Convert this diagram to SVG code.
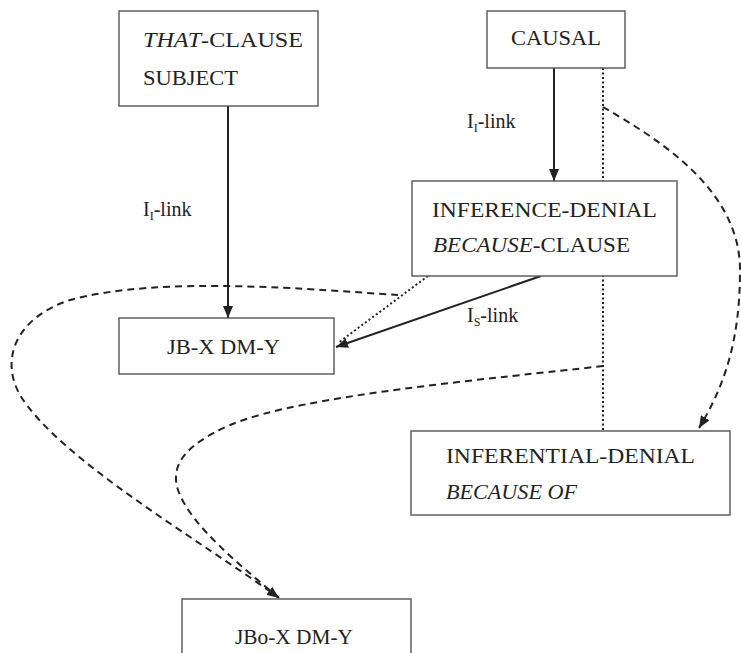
<svg xmlns="http://www.w3.org/2000/svg" width="741" height="653" viewBox="0 0 741 653">
  <style>
    .box { fill: #ffffff; stroke: #555555; stroke-width: 1.4; }
    .lbl { font-family: "Liberation Serif", "Times New Roman", serif; font-size: 21px; fill: #222222; }
    .edge { font-family: "Liberation Serif", "Times New Roman", serif; font-size: 20px; fill: #222222; }
    .sub { font-size: 12px; }
    .solid { fill: none; stroke: #222222; stroke-width: 2; }
    .dotted { fill: none; stroke: #222222; stroke-width: 2; stroke-dasharray: 2 2.5; }
    .dashed { fill: none; stroke: #222222; stroke-width: 2; stroke-dasharray: 7 5; }
  </style>
  <defs>
    <marker id="arrow" viewBox="0 0 12 10" refX="12" refY="5" markerWidth="12" markerHeight="10" markerUnits="userSpaceOnUse" orient="auto">
      <path d="M0,0 L12,5 L0,10 z" fill="#222222"/>
    </marker>
  </defs>

  <rect width="741" height="653" fill="#ffffff"/>

  <g id="connectors">
    <!-- solid I-links and S-link -->
    <path class="solid" d="M228 106 L228 318" marker-end="url(#arrow)"/>
    <path class="solid" d="M554 68 L554 181" marker-end="url(#arrow)"/>
    <path class="solid" d="M541 276 L336 347" marker-end="url(#arrow)"/>
    <!-- dotted inheritance lines -->
    <path class="dotted" d="M603 68 L603 431"/>
    <path class="dotted" d="M428 276 L338 343"/>
    <!-- dashed curves -->
    <path class="dashed" d="M603 107 C660 140 740 190 740 270 C740 340 725 385 699 428" marker-end="url(#arrow)"/>
    <path class="dashed" d="M398 295 C320 290 160 275 70 300 C15 318 0 360 20 395 C60 460 200 540 279 598" marker-end="url(#arrow)"/>
    <path class="dashed" d="M603 366 C500 378 300 395 230 425 C185 445 170 465 178 490 C190 525 240 565 279 598"/>
  </g>

  <g id="edge-labels">
    <text class="edge" x="143" y="216">I<tspan class="sub" dy="4">I</tspan><tspan dy="-4">-link</tspan></text>
    <text class="edge" x="467" y="128">I<tspan class="sub" dy="4">I</tspan><tspan dy="-4">-link</tspan></text>
    <text class="edge" x="467" y="322">I<tspan class="sub" dy="4">S</tspan><tspan dy="-4">-link</tspan></text>
  </g>

  <g id="that-clause-subject">
    <rect class="box" x="119" y="11" width="199" height="95"/>
    <text class="lbl" x="143" y="47" textLength="160" lengthAdjust="spacingAndGlyphs"><tspan font-style="italic">THAT</tspan>-CLAUSE</text>
    <text class="lbl" x="143" y="85" textLength="95" lengthAdjust="spacingAndGlyphs">SUBJECT</text>
  </g>

  <g id="causal">
    <rect class="box" x="487" y="11" width="138" height="57"/>
    <text class="lbl" x="511" y="45" textLength="90" lengthAdjust="spacingAndGlyphs">CAUSAL</text>
  </g>

  <g id="inference-denial-because-clause">
    <rect class="box" x="412" y="181" width="265" height="95"/>
    <text class="lbl" x="432" y="217" textLength="225" lengthAdjust="spacingAndGlyphs">INFERENCE-DENIAL</text>
    <text class="lbl" x="433" y="252" textLength="197" lengthAdjust="spacingAndGlyphs"><tspan font-style="italic">BECAUSE</tspan>-CLAUSE</text>
  </g>

  <g id="jb-x-dm-y">
    <rect class="box" x="119" y="318" width="215" height="56"/>
    <text class="lbl" x="167" y="354" textLength="113" lengthAdjust="spacingAndGlyphs">JB-X DM-Y</text>
  </g>

  <g id="inferential-denial-because-of">
    <rect class="box" x="411" y="431" width="319" height="84"/>
    <text class="lbl" x="446" y="463" textLength="249" lengthAdjust="spacingAndGlyphs">INFERENTIAL-DENIAL</text>
    <text class="lbl" x="446" y="499" textLength="131" lengthAdjust="spacingAndGlyphs" font-style="italic">BECAUSE OF</text>
  </g>

  <g id="jbo-x-dm-y">
    <rect class="box" x="182" y="599" width="229" height="64"/>
    <text class="lbl" x="235" y="644" textLength="118" lengthAdjust="spacingAndGlyphs">JBo-X DM-Y</text>
  </g>
</svg>
